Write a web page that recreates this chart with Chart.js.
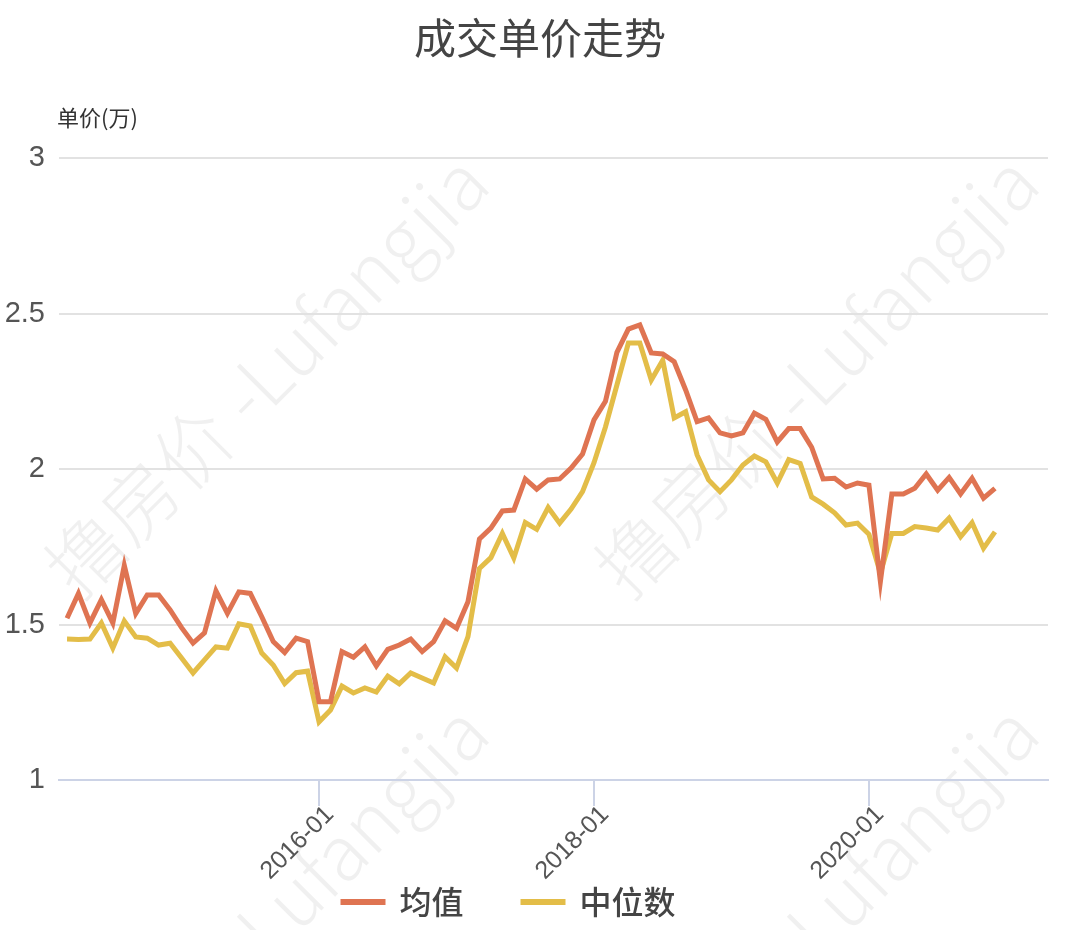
<!DOCTYPE html>
<html><head><meta charset="utf-8">
<script src="https://cdn.jsdelivr.net/npm/chart.js@4.4.1/dist/chart.umd.min.js"></script>
<style>html,body{margin:0;padding:0;background:#fff;}#wrap{width:1080px;height:930px;}</style>
</head><body><div id="wrap"><canvas id="c" width="1080" height="930"></canvas></div>
<script>
const chartTitle = '成交单价走势';
const yUnitLabel = '单价(万)';
const watermarkText = '撸房价 -Lufangjia';
const seriesNames = ['均值', '中位数'];
const months = [
 '2014-03','2014-04','2014-05','2014-06','2014-07','2014-08','2014-09','2014-10','2014-11','2014-12',
 '2015-01','2015-02','2015-03','2015-04','2015-05','2015-06','2015-07','2015-08','2015-09','2015-10','2015-11','2015-12',
 '2016-01','2016-02','2016-03','2016-04','2016-05','2016-06','2016-07','2016-08','2016-09','2016-10','2016-11','2016-12',
 '2017-01','2017-02','2017-03','2017-04','2017-05','2017-06','2017-07','2017-08','2017-09','2017-10','2017-11','2017-12',
 '2018-01','2018-02','2018-03','2018-04','2018-05','2018-06','2018-07','2018-08','2018-09','2018-10','2018-11','2018-12',
 '2019-01','2019-02','2019-03','2019-04','2019-05','2019-06','2019-07','2019-08','2019-09','2019-10','2019-11','2019-12',
 '2020-01','2020-02','2020-03','2020-04','2020-05','2020-06','2020-07','2020-08','2020-09','2020-10','2020-11','2020-12'
];
const xTickLabels = ['2016-01', '2018-01', '2020-01'];
const yTickValues = [1, 1.5, 2, 2.5, 3];
const meanValues = [
 1.52,1.60,1.505,1.58,1.505,1.69,1.535,1.595,1.595,1.547,
 1.49,1.44,1.473,1.608,1.536,1.605,1.60,1.525,1.445,1.41,1.456,1.445,
 1.252,1.252,1.413,1.395,1.428,1.367,1.42,1.434,1.453,1.413,1.445,1.512,
 1.488,1.573,1.775,1.81,1.865,1.868,1.968,1.935,1.965,1.968,2.003,2.048,
 2.158,2.218,2.375,2.45,2.463,2.373,2.37,2.345,2.254,2.152,2.164,2.116,
 2.106,2.116,2.18,2.16,2.087,2.13,2.13,2.07,1.968,1.97,1.942,1.955,
 1.948,1.638,1.92,1.92,1.938,1.984,1.932,1.973,1.92,1.97,1.906,1.938
];
const medianValues = [
 1.453,1.452,1.453,1.505,1.424,1.511,1.46,1.456,1.434,1.44,
 1.392,1.344,1.386,1.428,1.424,1.502,1.495,1.408,1.37,1.31,1.345,1.35,
 1.187,1.225,1.302,1.28,1.296,1.283,1.334,1.309,1.344,1.328,1.312,1.396,
 1.36,1.461,1.68,1.715,1.793,1.714,1.828,1.806,1.876,1.826,1.871,1.927,
 2.02,2.135,2.27,2.405,2.405,2.286,2.35,2.164,2.184,2.045,1.965,1.927,
 1.965,2.013,2.042,2.023,1.955,2.03,2.018,1.91,1.887,1.859,1.82,1.826,
 1.79,1.665,1.793,1.793,1.815,1.81,1.804,1.842,1.782,1.827,1.745,1.798
];
const seriesColors = ['#df7452', '#e3bd48'];

const NUM_FONT = '"Liberation Sans", "Noto Sans CJK SC", sans-serif';
const CJK_FONT = '"Noto Sans CJK SC", "Liberation Sans", sans-serif';

const bgAndWatermark = {
  id: 'bgAndWatermark',
  beforeDraw(chart) {
    const ctx = chart.ctx;
    ctx.save();
    ctx.fillStyle = '#ffffff';
    ctx.fillRect(0, 0, chart.width, chart.height);
    ctx.font = '300 76px ' + CJK_FONT;
    ctx.fillStyle = 'rgba(0,0,0,0.06)';
    ctx.textAlign = 'center';
    ctx.textBaseline = 'middle';
    const spots = [[266, 375], [816, 375], [266, 925], [816, 925]];
    for (const [cx, cy] of spots) {
      ctx.save();
      ctx.translate(cx, cy);
      ctx.rotate(-Math.PI / 4);
      ctx.fillText(watermarkText, 0, 0);
      ctx.restore();
    }
    ctx.restore();
  }
};

const titleAndUnit = {
  id: 'titleAndUnit',
  afterDraw(chart) {
    const ctx = chart.ctx;
    const a = chart.chartArea;
    ctx.save();
    ctx.font = '42px ' + CJK_FONT;
    ctx.fillStyle = '#444';
    ctx.textAlign = 'center';
    ctx.textBaseline = 'middle';
    ctx.fillText(chartTitle, chart.width / 2, 38);
    ctx.font = '22px ' + CJK_FONT;
    ctx.fillStyle = '#333';
    ctx.textAlign = 'left';
    ctx.fillText(yUnitLabel, a.left - 2, a.top - 40);
    ctx.restore();
  }
};

const customLegend = {
  id: 'customLegend',
  afterDraw(chart) {
    const ctx = chart.ctx;
    ctx.save();
    ctx.font = '500 32px ' + CJK_FONT;
    ctx.textBaseline = 'middle';
    ctx.textAlign = 'left';
    const sw = 45, gapText = 14, gapItem = 57, cy = 902, centerX = 508;
    const items = chart.data.datasets.map(d => ({ label: d.label, color: d.borderColor, w: ctx.measureText(d.label).width }));
    const total = items.reduce((s, it) => s + sw + gapText + it.w, 0) + gapItem * (items.length - 1);
    let x = centerX - total / 2;
    for (const it of items) {
      ctx.fillStyle = it.color;
      ctx.fillRect(x, cy - 3, sw, 6);
      ctx.fillStyle = '#444';
      ctx.fillText(it.label, x + sw + gapText, cy);
      x += sw + gapText + it.w + gapItem;
    }
    ctx.restore();
  }
};

const tickIdx = xTickLabels.map(l => months.indexOf(l));

new Chart(document.getElementById('c'), {
  type: 'line',
  data: {
    datasets: [
      { label: seriesNames[0], data: meanValues.map((v, i) => ({x: i, y: v})),
        borderColor: seriesColors[0], backgroundColor: seriesColors[0], borderWidth: 5,
        pointRadius: 0, tension: 0 },
      { label: seriesNames[1], data: medianValues.map((v, i) => ({x: i, y: v})),
        borderColor: seriesColors[1], backgroundColor: seriesColors[1], borderWidth: 5,
        pointRadius: 0, tension: 0 }
    ]
  },
  options: {
    responsive: false,
    animation: false,
    layout: { padding: { left: 0, right: 32, top: 158, bottom: 0 } },
    plugins: {
      title: { display: false },
      legend: { display: false },
      tooltip: { enabled: false }
    },
    scales: {
      x: { type: 'linear', min: -0.70, max: 85.63,
        afterBuildTicks: (s) => { s.ticks = tickIdx.map(v => ({ value: v })); },
        afterFit: (s) => { s.height = 150; },
        ticks: { autoSkip: false, minRotation: 45, maxRotation: 45, color: '#555',
          font: { family: NUM_FONT, size: 25 }, padding: -6, labelOffset: 11,
          callback: (v) => months[v] },
        grid: { drawOnChartArea: false, drawTicks: true, tickLength: 26, color: '#ccd3e6', lineWidth: 2 },
        border: { color: '#ccd3e6', width: 2 } },
      y: { min: 1, max: 3,
        afterBuildTicks: (s) => { s.ticks = yTickValues.map(v => ({ value: v })); },
        afterFit: (s) => { s.width = 59; },
        ticks: { color: '#555', font: { family: NUM_FONT, size: 29 }, padding: 14,
          callback: (v) => String(v) },
        grid: { color: '#e2e2e2', lineWidth: 2, drawTicks: false },
        border: { display: false } }
    }
  },
  plugins: [bgAndWatermark, titleAndUnit, customLegend]
});
</script></body></html>
